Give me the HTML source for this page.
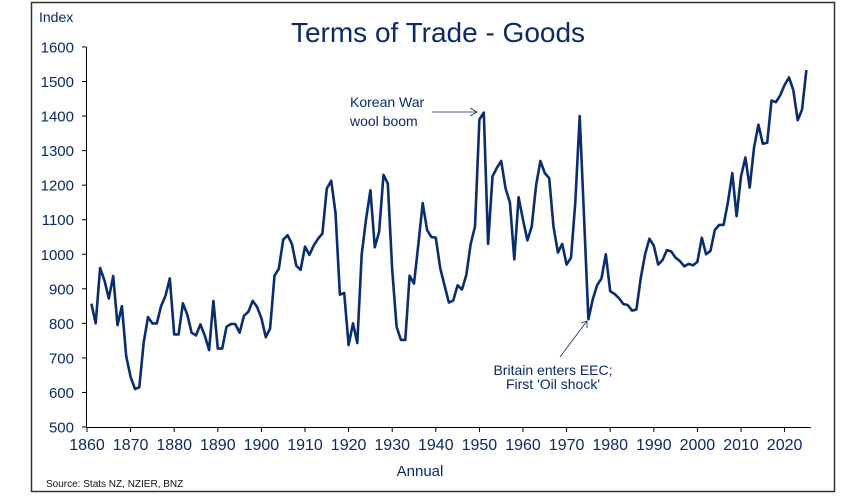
<!DOCTYPE html>
<html><head><style>
body{margin:0;background:#fff}
svg text{font-family:"Liberation Sans",sans-serif;fill:#0c2a66}
</style></head><body>
<svg id="s" width="861" height="499" xmlns="http://www.w3.org/2000/svg">
<rect x="31.5" y="2.5" width="803" height="489" fill="#fff" stroke="#333" stroke-width="1.5"/>
<text x="39" y="22" font-size="14">Index</text>
<text x="438" y="42" font-size="28" text-anchor="middle">Terms of Trade - Goods</text>
<line x1="86.5" y1="47" x2="86.5" y2="427" stroke="#000" stroke-width="1"/>
<line x1="86" y1="427.5" x2="811" y2="427.5" stroke="#000" stroke-width="1"/>
<g id="ax"></g>
<polyline id="ln" fill="none" stroke="#0a2d6e" stroke-width="2.6" stroke-linejoin="round"/>
<text x="350" y="107" font-size="14">Korean War</text>
<text x="350" y="126" font-size="14">wool boom</text>
<line x1="432" y1="112" x2="477" y2="112" stroke="#0c2a66" stroke-width="0.8"/>
<polyline points="470,108 477,112 470,116" fill="none" stroke="#0c2a66" stroke-width="0.8"/>
<line x1="560" y1="357" x2="587" y2="321" stroke="#0c2a66" stroke-width="0.8"/>
<polyline points="581,323 587,321 587,328" fill="none" stroke="#0c2a66" stroke-width="0.8"/>
<text x="553" y="375" font-size="14" text-anchor="middle">Britain enters EEC;</text>
<text x="553" y="389" font-size="14" text-anchor="middle">First 'Oil shock'</text>
<text x="420" y="476" font-size="15" text-anchor="middle">Annual</text>
<text x="46" y="487" font-size="10" style="fill:#111">Source: Stats NZ, NZIER, BNZ</text>
</svg>
<script>
var v=[857,800,960,925,872,937,795,850,705,645,610,615,745,818,800,800,850,880,930,768,768,858,825,773,765,797,765,723,865,727,727,790,798,798,773,822,833,865,848,815,760,785,938,958,1042,1055,1030,967,955,1022,998,1025,1045,1060,1190,1213,1120,883,888,737,800,743,1000,1100,1185,1020,1065,1230,1205,955,790,752,752,938,915,1030,1148,1070,1050,1048,960,910,860,866,910,898,940,1030,1080,1390,1410,1030,1225,1250,1270,1190,1150,985,1165,1100,1040,1080,1200,1270,1235,1220,1080,1005,1030,970,990,1150,1400,1110,812,870,910,930,1000,893,885,873,856,853,837,840,930,1000,1045,1025,970,983,1012,1008,990,980,965,972,968,978,1048,1000,1010,1070,1085,1085,1150,1235,1110,1225,1280,1193,1310,1375,1320,1323,1445,1440,1460,1490,1512,1475,1388,1418,1533];
function X(y){return 87+(y-1860)*4.36}function Y(a){return 427-(a-500)*0.3455}
var p=v.map(function(a,i){return X(1861+i).toFixed(1)+","+Y(a).toFixed(1)}).join(" ");
document.getElementById("ln").setAttribute("points",p);
var g="";for(var a=500;a<=1600;a+=100){var y=Y(a);g+='<line x1="82" x2="86" y1="'+y+'" y2="'+y+'" stroke="#000"/><text x="74" y="'+(y+5.5)+'" font-size="15" text-anchor="end">'+a+'</text>';}
for(var t=1860;t<=2020;t+=10){var x=X(t);g+='<line x1="'+x+'" x2="'+x+'" y1="427" y2="432" stroke="#000"/><text x="'+x+'" y="450" font-size="16" text-anchor="middle">'+t+'</text>';}
document.getElementById("ax").innerHTML=g;
</script>
</body></html>
